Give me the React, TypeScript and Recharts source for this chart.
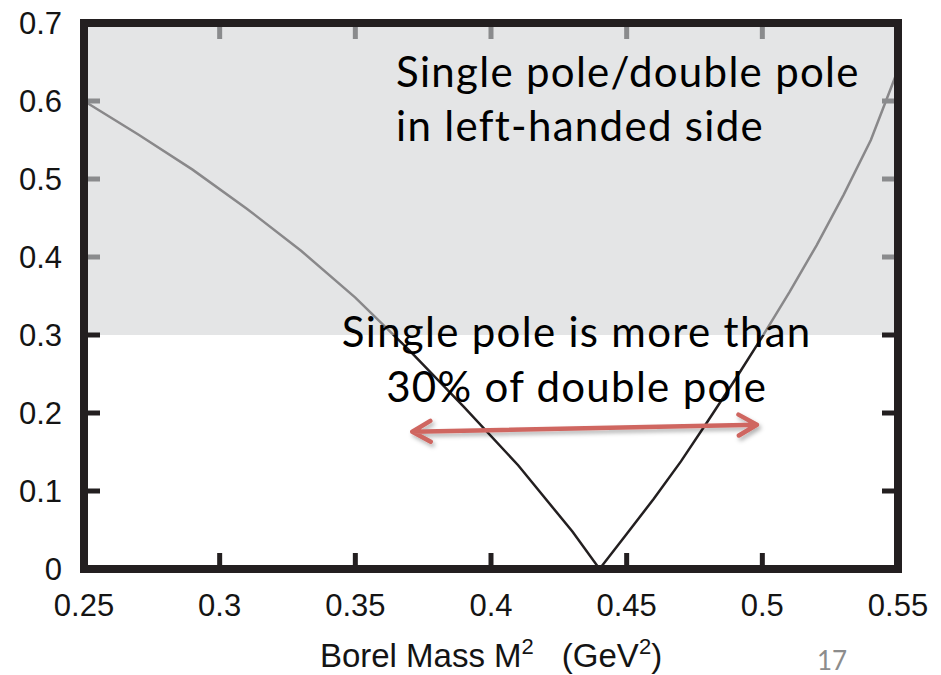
import React from 'react'
import {
  LineChart,
  Line,
  XAxis,
  YAxis,
  ReferenceArea,
  ReferenceLine,
  ReferenceDot,
} from 'recharts'

// Borel mass M^2 (GeV^2) and |single pole / double pole| ratio
const borelMass = [
  0.25, 0.27, 0.29, 0.31, 0.33, 0.35, 0.37, 0.39, 0.41, 0.43, 0.44,
  0.45, 0.46, 0.47, 0.48, 0.49, 0.5, 0.51, 0.52, 0.53, 0.54, 0.55,
]
const poleRatio = [
  0.6, 0.557, 0.512, 0.462, 0.408, 0.348, 0.28, 0.208, 0.133, 0.048, 0,
  0.045, 0.09, 0.138, 0.19, 0.243, 0.298, 0.355, 0.415, 0.48, 0.55, 0.64,
]

const xTicks = [0.25, 0.3, 0.35, 0.4, 0.45, 0.5, 0.55]
const yTicks = [0, 0.1, 0.2, 0.3, 0.4, 0.5, 0.6, 0.7]

// excluded region: ratio above 30%
const cutRatio = 0.3
const topLines = ['Single pole/double pole', 'in left-handed side']
const cutLines = ['Single pole is more than', '30% of double pole']
// Borel window marked by the arrow
const windowRange = [
  { x: 0.371, y: 0.176 },
  { x: 0.498, y: 0.185 },
]

const data = borelMass.map((m, i) => ({ mass: m, ratio: poleRatio[i] }))

const INK = '#231f20'
const SHADED_INK = '#8a8b8d'
const AXIS_FONT = '"Liberation Sans", Arial, sans-serif'
const NOTE_FONT = 'Lato, "Open Sans", sans-serif'
const TICK_START = 4
const TICK_END = 16

function BottomLabel(props: any) {
  return (
    <text x={props.x} y={Number(props.y) + 47} textAnchor="middle" fontSize={31} fontFamily={AXIS_FONT} fill="#141414">
      {String(props.payload.value)}
    </text>
  )
}

function LeftLabel(props: any) {
  return (
    <text x={Number(props.x) - 22} y={Number(props.y) + 11} textAnchor="end" fontSize={31} fontFamily={AXIS_FONT} fill="#141414">
      {String(props.payload.value)}
    </text>
  )
}

// short inward marks at both ends of a reference line spanning the plot;
// ends lying inside the shaded band are drawn in the washed-out tone
function EdgeTicks({ x1, y1, x2, y2, startShaded, endShaded }: any) {
  const len = Math.hypot(x2 - x1, y2 - y1) || 1
  const dx = (x2 - x1) / len
  const dy = (y2 - y1) / len
  return (
    <g>
      <line
        x1={x1 + dx * TICK_START}
        y1={y1 + dy * TICK_START}
        x2={x1 + dx * TICK_END}
        y2={y1 + dy * TICK_END}
        stroke={startShaded ? SHADED_INK : INK}
        strokeWidth={5}
      />
      <line
        x1={x2 - dx * TICK_START}
        y1={y2 - dy * TICK_START}
        x2={x2 - dx * TICK_END}
        y2={y2 - dy * TICK_END}
        stroke={endShaded ? SHADED_INK : INK}
        strokeWidth={5}
      />
    </g>
  )
}

function AxisTitle({ viewBox }: any) {
  const cx = viewBox.x + viewBox.width / 2
  const y = viewBox.y + 98
  return (
    <text x={cx} y={y} textAnchor="middle" fontSize={33} fontFamily={AXIS_FONT} fill="#141414">
      <tspan>Borel Mass M</tspan>
      <tspan fontSize={22} dy={-13}>2</tspan>
      <tspan dx={28} dy={13}>(GeV</tspan>
      <tspan fontSize={22} dy={-13}>2</tspan>
      <tspan dy={13}>)</tspan>
    </text>
  )
}

function NoteText({ cx, cy, lines, anchor, gap }: any) {
  return (
    <text
      x={cx}
      y={cy}
      textAnchor={anchor}
      fontSize={42}
      letterSpacing={1.3}
      fontFamily={NOTE_FONT}
      fill="#000"
    >
      {lines.map((l: string, i: number) => (
        <tspan key={i} x={cx} dy={i === 0 ? 0 : gap}>
          {l}
        </tspan>
      ))}
    </text>
  )
}

function DoubleArrow({ x1, y1, x2, y2 }: any) {
  const ang = Math.atan2(y2 - y1, x2 - x1)
  const len = 21
  const spread = 0.52
  const head = (tx: number, ty: number, dir: number) => {
    const a1 = dir + Math.PI - spread
    const a2 = dir + Math.PI + spread
    return `M${tx + len * Math.cos(a1)},${ty + len * Math.sin(a1)} L${tx},${ty} L${tx + len * Math.cos(a2)},${ty + len * Math.sin(a2)}`
  }
  const d = `M${x1},${y1} L${x2},${y2} ` + head(x2, y2, ang) + ' ' + head(x1, y1, ang + Math.PI)
  return (
    <g>
      <defs>
        <filter id="arrowShadow" x="-10%" y="-50%" width="120%" height="200%">
          <feDropShadow dx={2} dy={3} stdDeviation={2} floodColor="#000" floodOpacity={0.3} />
        </filter>
      </defs>
      <path d={d} fill="none" stroke="#cf6661" strokeWidth={4.5} strokeLinecap="round" strokeLinejoin="round" filter="url(#arrowShadow)" />
    </g>
  )
}

export default function App() {
  return (
    <div style={{ position: 'absolute', left: 0, top: 0, width: 941, height: 675, background: '#fff' }}>
      <LineChart width={941} height={675} data={data} margin={{ top: 23, right: 43, bottom: 0, left: 0 }}>
        <XAxis
          xAxisId="bottom"
          type="number"
          dataKey="mass"
          domain={[0.25, 0.55]}
          ticks={xTicks}
          interval={0}
          height={106}
          axisLine={false}
          tickLine={false}
          tickSize={0}
          tickMargin={0}
          tick={(p: any) => <BottomLabel {...p} />}
          label={{ content: (p: any) => <AxisTitle viewBox={p.viewBox} /> }}
        />
        <YAxis
          yAxisId="left"
          type="number"
          domain={[0, 0.7]}
          ticks={yTicks}
          interval={0}
          width={84}
          axisLine={false}
          tickLine={false}
          tickSize={0}
          tickMargin={0}
          tick={(p: any) => <LeftLabel {...p} />}
        />
        <Line
          xAxisId="bottom"
          yAxisId="left"
          type="linear"
          dataKey="ratio"
          stroke={INK}
          strokeWidth={2.5}
          dot={false}
          activeDot={false}
          isAnimationActive={false}
        />
        {/* shaded band sits over the curve, frame on top of it */}
        <ReferenceArea
          xAxisId="bottom"
          yAxisId="left"
          x1={0.25}
          x2={0.55}
          y1={cutRatio}
          y2={0.7}
          fill="#d1d2d5"
          fillOpacity={0.59}
          stroke="none"
          zIndex={550}
        />
        <ReferenceArea
          xAxisId="bottom"
          yAxisId="left"
          x1={0.25}
          x2={0.55}
          y1={0}
          y2={0.7}
          fill="none"
          fillOpacity={0}
          stroke={INK}
          strokeWidth={8}
          zIndex={560}
        />
        {/* inward tick marks on all four sides */}
        {xTicks.slice(1, -1).map((v) => (
          <ReferenceLine
            key={`xt${v}`}
            xAxisId="bottom"
            yAxisId="left"
            x={v}
            shape={(p: any) => {
              const topFirst = Number(p.y1) < Number(p.y2)
              return <EdgeTicks {...p} startShaded={topFirst} endShaded={!topFirst} />
            }}
            zIndex={565}
          />
        ))}
        {yTicks.slice(1, -1).map((v) => (
          <ReferenceLine
            key={`yt${v}`}
            xAxisId="bottom"
            yAxisId="left"
            y={v}
            shape={(p: any) => <EdgeTicks {...p} startShaded={v > cutRatio} endShaded={v > cutRatio} />}
            zIndex={565}
          />
        ))}
        <ReferenceLine
          xAxisId="bottom"
          yAxisId="left"
          segment={windowRange}
          shape={(p: any) => <DoubleArrow {...p} />}
          zIndex={570}
        />
        <ReferenceDot
          xAxisId="bottom"
          yAxisId="left"
          x={0.365}
          y={0.618}
          r={0}
          shape={(p: any) => <NoteText cx={p.cx} cy={p.cy} lines={topLines} anchor="start" gap={54} />}
          zIndex={580}
        />
        <ReferenceDot
          xAxisId="bottom"
          yAxisId="left"
          x={0.4316}
          y={0.2846}
          r={0}
          shape={(p: any) => <NoteText cx={p.cx} cy={p.cy} lines={cutLines} anchor="middle" gap={55} />}
          zIndex={580}
        />
      </LineChart>
      <div
        style={{
          position: 'absolute',
          left: 817,
          top: 645,
          fontFamily: NOTE_FONT,
          fontSize: 26,
          color: '#8c8c8c',
          lineHeight: '30px',
        }}
      >
        17
      </div>
    </div>
  )
}
